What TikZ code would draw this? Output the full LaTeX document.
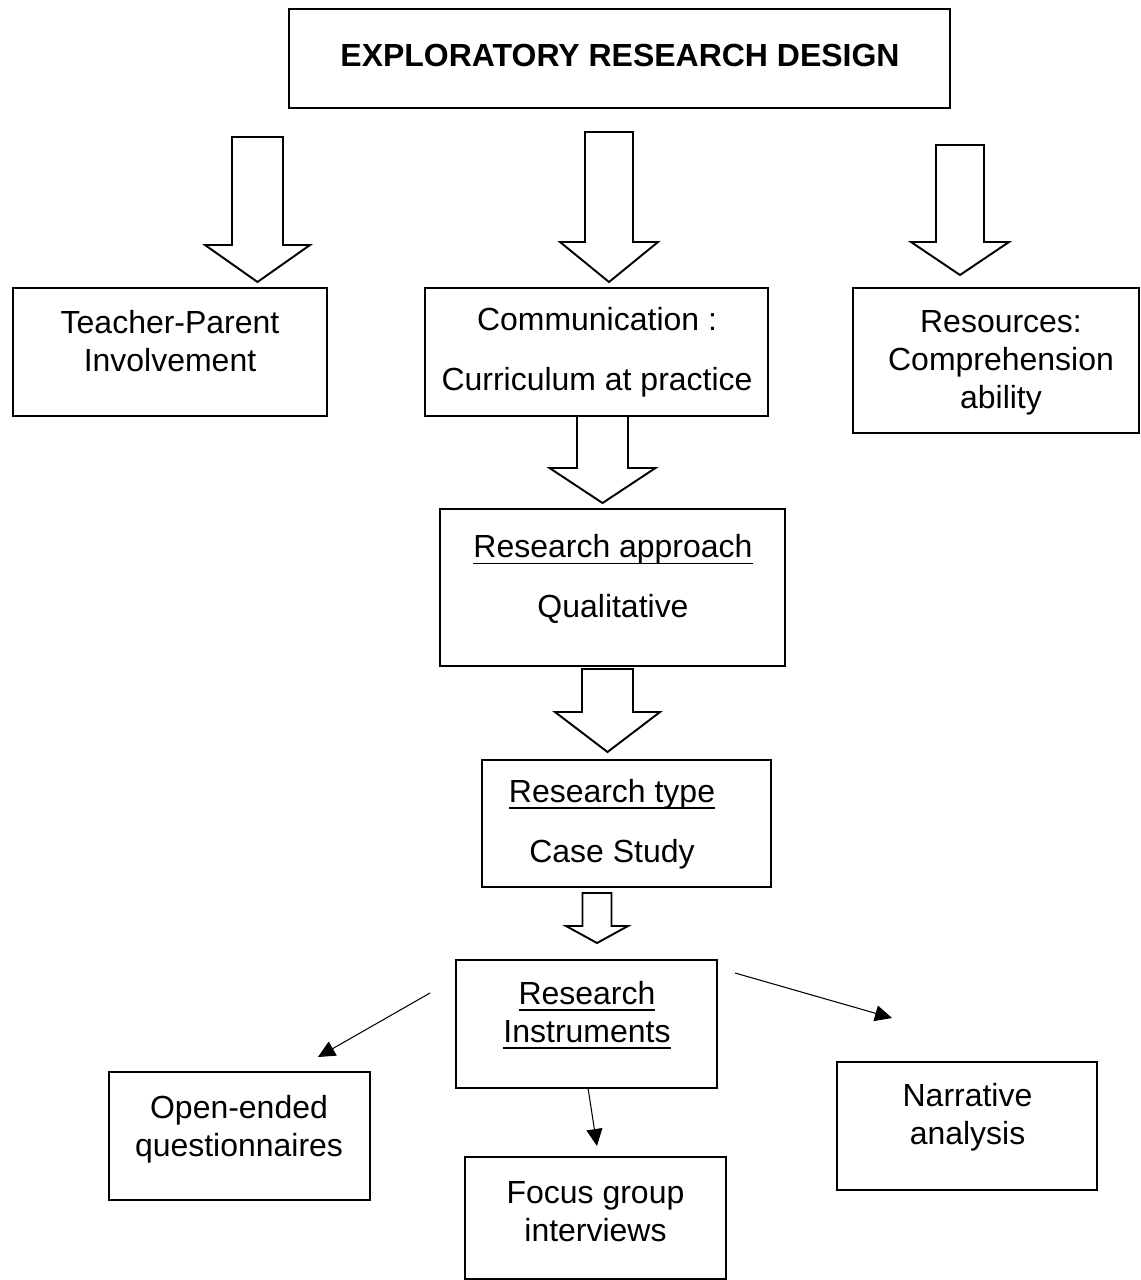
\documentclass[tikz,border=0pt]{standalone}
\usepackage{fontspec}
\setmainfont{Liberation Sans}
\usetikzlibrary{arrows.meta}

% hollow block arrow: centre x, top, base of head, tip, half shaft, half head
\newcommand{\bigarrow}[6]{%
  \draw[fat] ({#1-#5},#2) -- ({#1+#5},#2) -- ({#1+#5},#3) -- ({#1+#6},#3) -- (#1,#4)
    -- ({#1-#6},#3) -- ({#1-#5},#3) -- cycle;}
% heavier underline, close to the baseline
\newcommand{\ulin}[1]{\setbox0\hbox{#1}\rlap{\rule[-3.9pt]{\wd0}{1.1pt}}\box0}

\begin{document}
\begin{tikzpicture}[x=0.02cm, y=-0.02cm,
  box/.style={draw, line width=1.1pt, inner sep=0pt},
  txt/.style={align=center, inner sep=0pt, font=\fontsize{18.2}{21.6}\selectfont},
  fat/.style={draw, line width=1.1pt, line join=miter, fill=white},
  link/.style={line width=0.6pt, -{Triangle[length=0.34cm, width=0.32cm]}}
]
  \useasboundingbox (0,0) rectangle (1141,1280);

  % boxes
  \node[box, minimum width=13.22cm, minimum height=1.98cm] (title) at (619.5,58.5) {};
  \node[box, minimum width=6.28cm, minimum height=2.56cm] (tp) at (170,352) {};
  \node[box, minimum width=6.86cm, minimum height=2.56cm] (comm) at (596.5,352) {};
  \node[box, minimum width=5.72cm, minimum height=2.9cm] (res) at (996,360.5) {};
  \node[box, minimum width=6.9cm, minimum height=3.14cm] (appr) at (612.5,587.5) {};
  \node[box, minimum width=5.78cm, minimum height=2.54cm] (type) at (626.5,823.5) {};
  \node[box, minimum width=5.22cm, minimum height=2.56cm] (instr) at (586.5,1024) {};
  \node[box, minimum width=5.22cm, minimum height=2.56cm] (open) at (239.5,1136) {};
  \node[box, minimum width=5.22cm, minimum height=2.44cm] (focus) at (595.5,1218) {};
  \node[box, minimum width=5.2cm, minimum height=2.56cm] (narr) at (967,1126) {};

  % texts
  \node[txt, font=\fontsize{18.2}{21.6}\selectfont\bfseries] (titletxt) at (620,55) {EXPLORATORY RESEARCH DESIGN};
  \node[txt] (tptxt) at (170,341) {Teacher-Parent\\Involvement};
  \node[txt] (commtxt) at (597,352) {Communication :\\[12.5pt]Curriculum at practice};
  \node[txt] (restxt) at (1001,363) {Resources:\\Comprehension\\ability};
  \node[txt] (apprtxt) at (613,579) {\ulin{Research approach}\\[12.5pt]Qualitative};
  \node[txt] (typetxt) at (612,824) {\ulin{Research type}\\[12.5pt]Case Study};
  \node[txt] (instrtxt) at (587,1015) {\ulin{Research}\\\ulin{Instruments}};
  \node[txt] (opentxt) at (239,1129) {Open-ended\\questionnaires};
  \node[txt] (focustxt) at (595.5,1212) {Focus group\\interviews};
  \node[txt] (narrtxt) at (967.5,1117.5) {Narrative\\analysis};

  % block arrows
  \bigarrow{257.5}{137}{245}{282}{25.5}{52.5}
  \bigarrow{609}{132}{242}{282}{24}{49}
  \bigarrow{960}{145}{242}{275}{24}{49}
  \bigarrow{602.5}{416}{468}{503}{25.5}{53}
  \bigarrow{607.5}{669}{712}{752}{25.5}{52.5}
  \bigarrow{597}{893}{926}{943}{14.5}{31}

  % instrument links
  \coordinate (l1s) at (430,993);
  \coordinate (l1e) at (318,1057);
  \coordinate (l2s) at (588,1088);
  \coordinate (l2e) at (597,1146);
  \coordinate (l3s) at (735,973);
  \coordinate (l3e) at (892,1018);
  \draw[link] (l1s) -- (l1e);
  \draw[link] (l2s) -- (l2e);
  \draw[link] (l3s) -- (l3e);
\end{tikzpicture}
\end{document}
